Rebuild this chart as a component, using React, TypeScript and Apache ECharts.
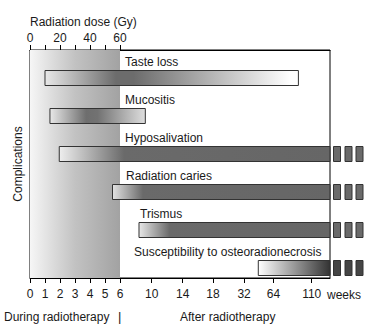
import React, { useEffect, useRef } from "react";
import * as echarts from "echarts";

// ---- data ----
const complications = [
  "Taste loss",
  "Mucositis",
  "Hyposalivation",
  "Radiation caries",
  "Trismus",
  "Susceptibility to osteoradionecrosis",
];
// onset / end of each complication, in weeks from start of radiotherapy (null = persists)
const startWeeks = [1, 1.33, 1.95, 5.5, 8.4, 47.5];
const endWeeks: (number | null)[] = [94, 9.2, null, null, null, null];
const radiotherapyWeeks = [0, 6];

const weekTicks = [0, 1, 2, 3, 4, 5, 6, 10, 14, 18, 32, 64, 110];
const weekTickLabels = ["0", "1", "2", "3", "4", "5", "6", "10", "14", "18", "32", "64", "110"];
const doseTicks = [0, 10, 20, 30, 40, 50, 60];
const doseLabelTicks = [0, 20, 40, 60];

// ---- axis scale (non-linear week axis: position of each tick on the axis) ----
const weekTickPositions = [0, 1, 2, 3, 4, 5, 6, 8.11, 10.18, 12.2, 14.27, 16.23, 18.78];
const AXIS_MAX = 20;
const DOSE_MAX = 200;

function toPos(w: number): number {
  for (let k = 0; k < weekTicks.length - 1; k++) {
    if (w <= weekTicks[k + 1]) {
      const t = (w - weekTicks[k]) / (weekTicks[k + 1] - weekTicks[k]);
      return weekTickPositions[k] + t * (weekTickPositions[k + 1] - weekTickPositions[k]);
    }
  }
  return AXIS_MAX;
}

// ---- styles ----
const FONT = "Liberation Sans, Arial, sans-serif";
const TEXT = "#1a1a1a";
const FS = 12;
const barStops: [number, string][][] = [
  [[0, "#e8e8e8"], [0.28, "#6c6c6c"], [0.35, "#6c6c6c"], [0.97, "#ffffff"], [1, "#ffffff"]],
  [[0, "#e8e8e8"], [0.38, "#6e6e6e"], [0.5, "#727272"], [1, "#dedede"]],
  [[0, "#eeeeee"], [0.24, "#6a6a6a"], [1, "#666666"]],
  [[0, "#e2e2e2"], [0.14, "#6a6a6a"], [1, "#666666"]],
  [[0, "#e6e6e6"], [0.16, "#6a6a6a"], [1, "#666666"]],
  [[0, "#ffffff"], [1, "#333333"]],
];
const dashFill = ["#6a6a6a", "#6a6a6a", "#6a6a6a", "#6a6a6a", "#6a6a6a", "#454545"];
const labelLeft = [125, 125, 125, 126, 140, 134];
const BAR_OFFSET = 9; // bar centre below band centre
const BAR_H = 15;
const LABEL_OFFSET = -16.5; // label centre relative to bar centre

export default function App() {
  const ref = useRef<HTMLDivElement>(null);
  useEffect(() => {
    if (!ref.current) return;
    const chart = echarts.init(ref.current, null, { renderer: "svg" });

    const barData = complications.map((name, i) => ({
      name,
      value: [toPos(startWeeks[i]), endWeeks[i] == null ? AXIS_MAX : toPos(endWeeks[i] as number), i],
    }));

    const option: any = {
      animation: false,
      backgroundColor: "#ffffff",
      textStyle: { fontFamily: FONT },
      grid: {
        left: 30,
        top: 50,
        width: 300,
        height: 228,
        show: true,
        borderColor: "#000",
        borderWidth: 1,
        backgroundColor: "transparent",
      },
      xAxis: [
        {
          type: "value",
          position: "bottom",
          min: 0,
          max: AXIS_MAX,
          splitLine: { show: false },
          axisLine: { show: true, lineStyle: { color: "#000", width: 1 } },
          axisTick: {
            show: true,
            customValues: weekTickPositions,
            length: 5,
            lineStyle: { color: "#000" },
          },
          axisLabel: {
            customValues: weekTickPositions,
            margin: 10,
            fontSize: FS,
            color: TEXT,
            fontFamily: FONT,
            formatter: (v: number) => {
              const k = weekTickPositions.findIndex((p) => Math.abs(p - v) < 1e-6);
              return k >= 0 ? weekTickLabels[k] : "";
            },
          },
        },
        {
          type: "value",
          position: "top",
          min: 0,
          max: DOSE_MAX,
          splitLine: { show: false },
          axisLine: { show: true, lineStyle: { color: "#000", width: 1 } },
          axisTick: {
            show: true,
            customValues: doseTicks,
            length: 5,
            lineStyle: { color: "#000" },
          },
          axisLabel: {
            customValues: doseLabelTicks,
            margin: 6,
            fontSize: FS,
            color: TEXT,
            fontFamily: FONT,
          },
        },
      ],
      yAxis: {
        type: "category",
        inverse: true,
        data: complications,
        axisLabel: { show: false },
        axisTick: { show: false },
        axisLine: { show: true, lineStyle: { color: "#000", width: 1 } },
        name: "Complications",
        nameLocation: "middle",
        nameGap: 6,
        nameTextStyle: { fontSize: FS, color: TEXT, fontFamily: FONT },
      },
      graphic: [
        {
          type: "text",
          left: 30,
          top: 16,
          style: { text: "Radiation dose (Gy)", fontSize: FS, fontFamily: FONT, fill: TEXT },
        },
        {
          type: "text",
          left: 327,
          top: 289,
          style: { text: "weeks", fontSize: FS, fontFamily: FONT, fill: TEXT },
        },
        {
          type: "text",
          left: 4,
          top: 311,
          style: { text: "During radiotherapy", fontSize: FS, fontFamily: FONT, fill: TEXT },
        },
        {
          type: "text",
          left: 118,
          top: 310,
          style: { text: "|", fontSize: 13, fontFamily: FONT, fill: TEXT },
        },
        {
          type: "text",
          left: 180,
          top: 311,
          style: { text: "After radiotherapy", fontSize: FS, fontFamily: FONT, fill: TEXT },
        },
      ],
      series: [
        {
          type: "custom",
          name: "radiotherapy",
          xAxisIndex: 0,
          yAxisIndex: 0,
          z: 1,
          silent: true,
          data: [[toPos(radiotherapyWeeks[0]), toPos(radiotherapyWeeks[1])]],
          encode: { x: [0, 1] },
          renderItem: (params: any, api: any) => {
            const cs = params.coordSys;
            const x0 = api.coord([api.value(0), 0])[0];
            const x1 = api.coord([api.value(1), 0])[0];
            return {
              type: "rect",
              shape: { x: x0, y: cs.y, width: x1 - x0, height: cs.height },
              style: {
                fill: new echarts.graphic.LinearGradient(0, 0, 1, 0, [
                  { offset: 0, color: "#f6f6f6" },
                  { offset: 0.5, color: "#c2c2c2" },
                  { offset: 1, color: "#a2a2a2" },
                ]),
              },
            };
          },
        },
        {
          type: "custom",
          name: "complications",
          xAxisIndex: 0,
          yAxisIndex: 0,
          z: 3,
          clip: false,
          data: barData,
          encode: { x: [0, 1], y: 2 },
          renderItem: (params: any, api: any) => {
            const i = params.dataIndex;
            const x0 = api.coord([api.value(0), i])[0];
            const x1 = api.coord([api.value(1), i])[0];
            const yc = api.coord([0, i])[1] + BAR_OFFSET;
            const top = yc - BAR_H / 2;
            const children: any[] = [
              {
                type: "text",
                style: {
                  text: complications[i],
                  x: labelLeft[i],
                  y: yc + LABEL_OFFSET,
                  verticalAlign: "middle",
                  align: "left",
                  fontSize: FS,
                  fontFamily: FONT,
                  fill: TEXT,
                },
              },
              {
                type: "rect",
                shape: { x: x0, y: top, width: x1 - x0, height: BAR_H },
                style: {
                  fill: new echarts.graphic.LinearGradient(
                    0,
                    0,
                    1,
                    0,
                    barStops[i].map(([o, c]) => ({ offset: o, color: c }))
                  ),
                  stroke: "#333333",
                  lineWidth: 1,
                },
              },
            ];
            if (endWeeks[i] == null) {
              [3.5, 15, 26].forEach((dx) => {
                children.push({
                  type: "rect",
                  shape: { x: x1 + dx, y: top, width: 7, height: BAR_H },
                  style: { fill: dashFill[i], stroke: "#333333", lineWidth: 1 },
                });
              });
            }
            return { type: "group", children };
          },
        },
      ],
    };
    chart.setOption(option);
    return () => chart.dispose();
  }, []);
  return (
    <div
      ref={ref}
      style={{ position: "fixed", left: 0, top: 0, width: 367, height: 328 }}
    />
  );
}
